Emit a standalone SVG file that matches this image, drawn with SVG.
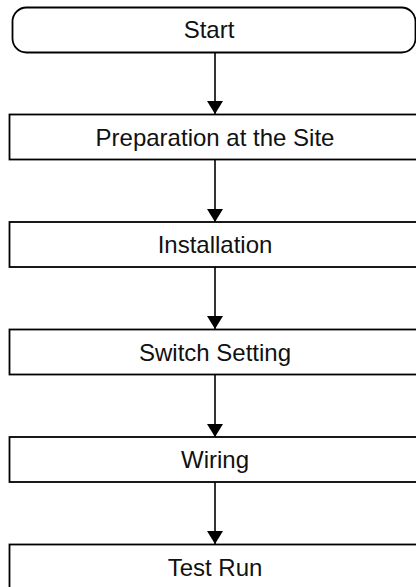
<svg xmlns="http://www.w3.org/2000/svg" width="416" height="587" viewBox="0 0 416 587">
<style>
.box{fill:#fff;stroke:#000;stroke-width:1.8}
.lbl{font-family:"Liberation Sans",Arial,sans-serif;font-size:24px;fill:#111;text-anchor:middle;dominant-baseline:central}
.conn{stroke:#000;stroke-width:1.6;fill:none}
</style>
<defs>
<marker id="ah" markerWidth="13" markerHeight="16" refX="16" refY="6.5" orient="auto" markerUnits="userSpaceOnUse" viewBox="0 0 16 13" preserveAspectRatio="none">
<path d="M0,0 L16,6.5 L0,13 Z" fill="#000"/>
</marker>
</defs>
<g id="connectors">
<line class="conn" x1="215" y1="52" x2="215" y2="114" marker-end="url(#ah)"/>
<line class="conn" x1="215" y1="160" x2="215" y2="222" marker-end="url(#ah)"/>
<line class="conn" x1="215" y1="267" x2="215" y2="329" marker-end="url(#ah)"/>
<line class="conn" x1="215" y1="375" x2="215" y2="437" marker-end="url(#ah)"/>
<line class="conn" x1="215" y1="482" x2="215" y2="544" marker-end="url(#ah)"/>
</g>
<g id="start">
<rect class="box" x="12.5" y="7.5" width="403" height="45" rx="14" ry="14"/>
<text class="lbl" x="209" y="29">Start</text>
</g>
<g id="preparation">
<rect class="box" x="9.5" y="114.5" width="420" height="45"/>
<text class="lbl" x="215" y="137">Preparation at the Site</text>
</g>
<g id="installation">
<rect class="box" x="9.5" y="222" width="420" height="45"/>
<text class="lbl" x="215" y="244.5">Installation</text>
</g>
<g id="switch">
<rect class="box" x="9.5" y="329.5" width="420" height="45"/>
<text class="lbl" x="215" y="352">Switch Setting</text>
</g>
<g id="wiring">
<rect class="box" x="9.5" y="437" width="420" height="45"/>
<text class="lbl" x="215" y="459.5">Wiring</text>
</g>
<g id="testrun">
<rect class="box" x="9.5" y="544.5" width="420" height="45"/>
<text class="lbl" x="215" y="567">Test Run</text>
</g>
</svg>
